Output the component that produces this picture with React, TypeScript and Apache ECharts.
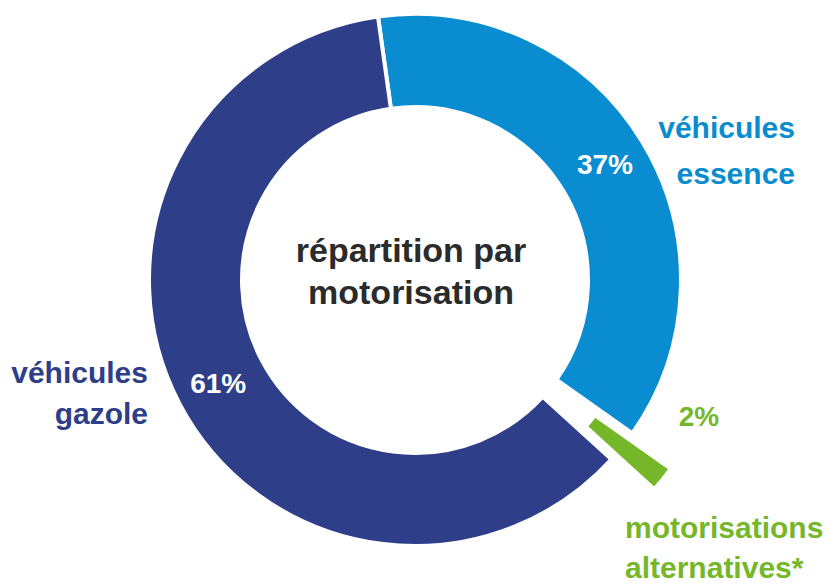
import React, { useEffect, useRef } from "react";
import * as echarts from "echarts";

const categories = ["véhicules essence", "motorisations alternatives*", "véhicules gazole"];
const nameLines = [["véhicules", "essence"], ["motorisations", "alternatives*"], ["véhicules", "gazole"]];
const values = [37, 2, 61];
const colors = ["#0A8CD0", "#76B72A", "#2E3E88"];
const centerTitle = ["répartition par", "motorisation"];

const FONT = "'Liberation Sans', Arial, Helvetica, sans-serif";

export default function App() {
  const ref = useRef<HTMLDivElement>(null);
  useEffect(() => {
    document.body.style.margin = "0";
    const chart = echarts.init(ref.current!, null, { renderer: "svg" });
    const center = [415, 280];
    const startAngle = 98;

    const mainData = values.map((v, i) => ({
      value: v,
      name: categories[i],
      itemStyle: {
        color: i === 1 ? "rgba(0,0,0,0)" : colors[i],
        borderColor: "#ffffff",
        borderWidth: i === 1 ? 0 : 4,
      },
      label:
        i === 1
          ? { show: true, position: "outside", color: colors[1], fontSize: 28, fontWeight: "bold", fontFamily: FONT }
          : { show: true, position: "inside", color: "#ffffff", fontSize: 28, fontWeight: "bold", fontFamily: FONT },
      labelLine: { show: false },
    }));

    const offsetData = values.map((v, i) => ({
      value: v,
      name: categories[i],
      selected: i === 1,
      itemStyle:
        i === 1
          ? { color: colors[1], borderColor: "#ffffff", borderWidth: 11 }
          : { color: "rgba(0,0,0,0)", borderWidth: 0 },
      label: { show: false },
      labelLine: { show: false },
    }));

    const labelPos = [
      { x: 795, y: 150, align: "right", lh: 46 },
      { x: 625, y: 547, align: "left", lh: 40 },
      { x: 148, y: 393, align: "right", lh: 41 },
    ];

    chart.setOption({
      animation: false,
      series: [
        {
          type: "pie",
          z: 1,
          silent: true,
          center,
          radius: [169.5, 269.5],
          startAngle,
          clockwise: true,
          selectedMode: "single",
          selectedOffset: 52,
          data: offsetData,
          label: { show: false },
          emphasis: { disabled: true },
        },
        {
          type: "pie",
          z: 2,
          center,
          radius: [173, 266],
          startAngle,
          clockwise: true,
          data: mainData,
          label: { formatter: "{c}%" },
          emphasis: { disabled: true },
          labelLayout: (p: any) =>
            p.dataIndex === 1 ? { x: 699, y: 416, align: "center", verticalAlign: "middle" } : {},
        },
      ],
      graphic: [
        {
          type: "text",
          x: 411,
          y: 271,
          style: {
            text: centerTitle.join("\n"),
            fill: "#2b2b2b",
            font: `bold 34px ${FONT}`,
            lineHeight: 42,
            textAlign: "center",
            textVerticalAlign: "middle",
          },
        },
        ...nameLines.map((lines, i) => ({
          type: "text",
          x: labelPos[i].x,
          y: labelPos[i].y,
          style: {
            text: lines.join("\n"),
            fill: colors[i],
            font: `bold 30px ${FONT}`,
            lineHeight: labelPos[i].lh,
            textAlign: labelPos[i].align,
            textVerticalAlign: "middle",
          },
        })),
      ],
    });
    return () => chart.dispose();
  }, []);
  return <div ref={ref} style={{ width: 830, height: 586 }} />;
}
